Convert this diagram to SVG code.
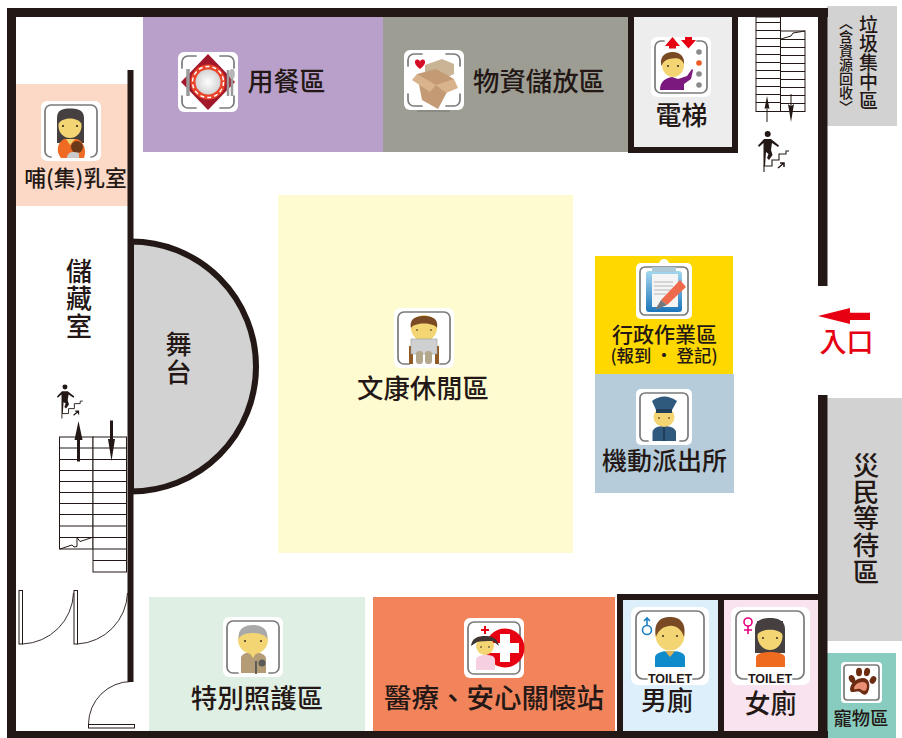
<svg xmlns="http://www.w3.org/2000/svg" width="902" height="738" viewBox="0 0 902 738">
<style>
text{font-family:"Noto Sans CJK TC","Noto Sans CJK SC",sans-serif;fill:#231815;text-anchor:middle;font-weight:500}
.v{writing-mode:vertical-rl}
.en{font-family:"Liberation Sans",sans-serif;font-weight:700;font-size:12.500px}
.w{fill:#231815}
.tile{fill:#fff}
.fr{fill:none;stroke:#7a7a7a;stroke-width:1.700;stroke-linecap:round}
.st{fill:#fff;stroke:#231815;stroke-width:1}
.tr{fill:none;stroke:#231815;stroke-width:1}
.door{fill:#fff;stroke:#231815;stroke-width:1}
.arc{fill:none;stroke:#231815;stroke-width:.9}
.skin{fill:#f3d673}
.eye{fill:#231815}
</style>
<defs>
<linearGradient id="board" x1="0" y1="0" x2="0" y2="1"><stop offset="0" stop-color="#a5d8f0"/><stop offset="1" stop-color="#1b75bb"/></linearGradient>
<radialGradient id="plate"><stop offset="0" stop-color="#fff"/><stop offset="1" stop-color="#d4d4d4"/></radialGradient>
<rect id="tile" class="tile" width="60" height="60" rx="6"/>
<path id="brk" class="fr" d="M4 16V10a6 6 0 0 1 6-6h8M42 4h8a6 6 0 0 1 6 6v6M56 44v6a6 6 0 0 1-6 6h-8M18 56h-8a6 6 0 0 1-6-6v-6"/>
<g id="walker">
<circle cx="767.700" cy="134" r="3" class="w"/>
<path class="w" d="M758 145.500 764 139H771L779 145.500 778 147 772 143 771 150 772.500 155 769 160 767 158 768.500 154 766 152 765 166H763.500L763.500 150 763.500 143 759 147Z"/>
<path fill="none" stroke="#231815" stroke-width="1.100" d="M764 172V166H772V160H779V154H786V151H789"/>
<path fill="none" stroke="#231815" stroke-width="1.500" d="M778 168 784 163M780 163H784V167"/>
</g>
</defs>

<g id="rooms">
<rect x="143" y="17" width="240" height="135" fill="#b9a0cb"/>
<rect x="383" y="17" width="245" height="135" fill="#9d9d93"/>
<rect x="16" y="84" width="112" height="122" fill="#fbd9c6"/>
<rect x="278" y="195" width="295" height="358" fill="#fffbd1"/>
<rect x="595" y="256" width="138" height="118" fill="#ffd800"/>
<rect x="595" y="374" width="139" height="119" fill="#b6ccda"/>
<rect x="149" y="597" width="216" height="134" fill="#dfefe3"/>
<rect x="373" y="597" width="242" height="134" fill="#f2845c"/>
<rect x="623" y="600" width="95" height="131" fill="#dceffa"/>
<rect x="724" y="600" width="94" height="131" fill="#f9e3ef"/>
<rect x="827" y="6" width="70" height="120" fill="#d2d2d2"/>
<rect x="827" y="398" width="75" height="243" fill="#d2d2d2"/>
<rect x="827" y="653" width="69" height="85" fill="#87ccbe"/>
<rect x="634" y="15" width="98" height="132" fill="#ededee"/>
</g>

<g id="stage"><path d="M131 241.500A125 125 0 0 1 131 491.500Z" fill="#d2d2d2" stroke="#231815" stroke-width="6"/></g>

<g id="walls">
<rect class="w" x="7" y="8" width="821" height="9"/>
<rect class="w" x="7" y="8" width="9" height="730"/>
<rect class="w" x="7" y="731" width="821" height="7"/>
<rect class="w" x="818" y="8" width="9.500" height="278"/>
<rect class="w" x="818" y="395" width="9.500" height="343"/>
<rect class="w" x="127.500" y="70" width="6" height="612"/>
<path class="w" d="M628 15h6v132h98V15h6v138H628Z"/>
<path class="w" d="M617 594H824V731H818V600H724V731H718V600H623V731H617Z"/>
</g>

<g id="stairs-right">
<rect class="st" x="756" y="17" width="24.500" height="94.500"/>
<rect class="st" x="780.500" y="31" width="24.500" height="80.500"/>
<path class="tr" d="M756 22.500h24.500M756 30.500h24.500M756 38.500h24.500M756 46.500h24.500M756 54.500h24.500M756 62.500h24.500M756 70.500h24.500M756 78.500h24.500M756 86.500h24.500M756 94.500h24.500M756 102.500h24.500M780.500 39.500h24.500M780.500 47.500h24.500M780.500 55.500h24.500M780.500 63.500h24.500M780.500 71.500h24.500M780.500 79.500h24.500M780.500 87.500h24.500M780.500 95.500h24.500M780.500 103.500h24.500"/>
<path class="tr" d="M781 39 791 36 793 33 805 31"/>
<path class="w" d="M766.500 122V108L764.500 109 767 96 769.500 109 767.500 108V122Z"/>
<path class="w" d="M790.500 94H791.500V106L794 104 791 122 788 104 790.500 106Z"/>
<use href="#walker"/>
</g>

<g id="stairs-left">
<rect class="st" x="59.500" y="437" width="33.500" height="112"/>
<rect class="st" x="93" y="437" width="33.500" height="135"/>
<path class="tr" d="M59.500 448h33.500M59.500 459.500h33.500M59.500 470.500h33.500M59.500 481.500h33.500M59.500 492.500h33.500M59.500 503.500h33.500M59.500 514.500h33.500M59.500 526h33.500M59.500 537.500h33.500M93 448h33.500M93 459.500h33.500M93 470.500h33.500M93 481.500h33.500M93 492.500h33.500M93 503.500h33.500M93 514.500h33.500M93 526h33.500M93 537.500h33.500M93 549h33.500M93 560.500h33.500"/>
<path class="tr" d="M60 549 72 545 74 547 77 546.500V537.500L80 541.500 92 537.500"/>
<path class="w" d="M77 461.500V440H74.500L78.500 421 82.500 440H80V461.500Z"/>
<path class="w" d="M110 420.500H113V439L115 439 111.500 461 108 439 110 439Z"/>
<use href="#walker" transform="translate(-572.200 275.800) scale(.83)"/>
</g>

<g id="doors">
<rect class="door" x="19" y="590.500" width="3.500" height="53.500"/>
<rect class="door" x="74" y="590.500" width="3.500" height="53.500"/>
<path class="arc" d="M22.500 644A53 53 0 0 0 73.500 593"/>
<path class="arc" d="M77.500 644A53 53 0 0 0 127.500 593"/>
<rect class="door" x="88.500" y="724.500" width="46" height="3.500"/>
<path class="arc" d="M88.500 724A43 43 0 0 1 131 681.500"/>
</g>

<g id="node-dining" transform="translate(178 52)">
<use href="#tile"/><use href="#brk"/>
<path d="M30 2 57 30 30 58 3 30Z" fill="#a3172a"/>
<circle cx="30" cy="30" r="17.500" fill="#e9452a"/><circle cx="30" cy="30" r="15.500" fill="none" stroke="#fff" stroke-width="1.500" stroke-dasharray="4 3"/><circle cx="30" cy="30" r="12.500" fill="url(#plate)"/>
<path d="M10 17V44" stroke="#9a9a9a" stroke-width="3.500"/><path d="M50 18V44M54 21V44" stroke="#9a9a9a" stroke-width="2.500"/><ellipse cx="54" cy="22" rx="2.800" ry="5" fill="#b5b5b5"/>
</g>
<g id="label-dining"><text x="286.500" y="91" font-size="26">用餐區</text></g>

<g id="node-nursing" transform="translate(41 101)">
<use href="#tile"/><path class="fr" d="M4 16V10a6 6 0 0 1 6-6H50a6 6 0 0 1 6 6V50a6 6 0 0 1-6 6H50M10 56a6 6 0 0 1-6-6V16"/>
<path d="M16 42V17C16 8 23 7.500 29 7.500S43 8 43 17V42Z" fill="#453f3f"/>
<ellipse class="skin" cx="29" cy="25" rx="11.500" ry="12"/>
<path d="M18 22C22 16 36 16 40 22V12H18Z" fill="#453f3f"/>
<circle class="eye" cx="22" cy="25" r="1"/><circle class="eye" cx="36" cy="25" r="1"/>
<path d="M20 57C14 50 17 41 23 38H36C42 40 46 48 43 57Z" fill="#ef6b23"/>
<path d="M25 38 29 44 34 38Z" fill="#f3d673"/>
<circle cx="36" cy="46" r="6" fill="#6a3a1b"/><path d="M26 57C26 51 32 50 38 52V57Z" fill="#c9c9c9"/>
</g>
<g id="label-nursing"><text x="75.500" y="186" font-size="21.800">哺(集)乳室</text></g>

<g id="node-supplies" transform="translate(404 50)">
<use href="#tile"/><use href="#brk"/><path d="M13 61H46" stroke="#7a7a7a" stroke-width="1"/>
<path d="M21 15 38 9 50 14V24L38 30 21 24Z" fill="#c9b595"/>
<path d="M13 24 32 19 50 29 34 59 18 50Z" fill="#c39a73"/><path d="M8 30 13 24 32 35 26 42ZM50 29 54 38 42 43 32 35Z" fill="#d8b38c"/>
<path d="M14 10C16 7 19 9 19 11 19 9 22 7 24 10 25 14 19 18 19 18S13 14 14 10Z" fill="#d40f27" transform="translate(-3 1)"/>
</g>
<g id="label-supplies"><text x="539" y="91" font-size="26.400">物資儲放區</text></g>

<g id="node-elevator" transform="translate(651 37)">
<use href="#tile"/><path class="fr" d="M13 4H10a6 6 0 0 0-6 6V50a6 6 0 0 0 6 6H50a6 6 0 0 0 6-6V10a6 6 0 0 0-6-6H46"/>
<path d="M14 9 21.500 0 29 9H25V11.500H18V9Z" fill="#e60012"/>
<path d="M34 0H41V3H45L37.500 11.500 30 3H34Z" fill="#e60012"/>
<circle cx="48" cy="15" r="2.800" fill="#8a8a8a"/><circle cx="48" cy="26" r="2.800" fill="#ee5a24"/><circle cx="48" cy="37" r="2.800" fill="#8a8a8a"/><circle cx="48" cy="48" r="2.800" fill="#8a8a8a"/>
<path d="M9 53C9 44 15 41 21 40L27 42 36 39 41 32 42 33 40 42 33 47V53Z" fill="#7b197f"/>
<ellipse class="skin" cx="22" cy="28" rx="11" ry="12"/>
<path d="M10.500 29C8 18 16 15 22 15 28 15 34 19 33 27 30 20 24 21 18 22 14 23 12 25 10.500 29Z" fill="#7a4a24"/>
<circle class="eye" cx="17" cy="29" r=".9"/><circle class="eye" cx="27" cy="29" r=".9"/>
</g>
<g id="label-elevator"><text x="681.500" y="125" font-size="26">電梯</text></g>

<g id="label-storage"><text class="v" x="79" y="299" font-size="26" letter-spacing="1.500">儲藏室</text></g>
<g id="label-stage"><text class="v" x="178.500" y="359" font-size="26" letter-spacing="1.500">舞台</text></g>

<g id="node-recreation" transform="translate(394 308)">
<use href="#tile"/><path class="fr" d="M15 56H10a6 6 0 0 1-6-6V10a6 6 0 0 1 6-6H50a6 6 0 0 1 6 6V50a6 6 0 0 1-6 6H46"/>
<path d="M15 38H19V56H41V38H45V56H15Z" fill="#8f5a24"/>
<ellipse class="skin" cx="30" cy="20" rx="13" ry="13"/>
<path d="M17 20C15 10 23 8 30 8S45 10 43 20C40 14 20 14 17 20Z" fill="#7a4a24"/>
<circle class="eye" cx="23" cy="22" r=".8"/><circle class="eye" cx="37" cy="22" r=".8"/>
<rect x="17" y="31" width="26" height="15" fill="#cfd0d2" stroke="#9a9a9a" stroke-width=".6"/>
<rect x="22" y="43" width="7" height="13" rx="3" fill="#b3a88d"/><rect x="31" y="43" width="7" height="13" rx="3" fill="#b3a88d"/>
</g>
<g id="label-recreation"><text x="423" y="398" font-size="26.400">文康休閒區</text></g>

<g id="node-admin" transform="translate(636 263)">
<rect class="tile" width="56" height="56" rx="5"/><circle cx="28" cy="1" r="5" fill="#fff"/>
<path class="fr" d="M4 14V9a5 5 0 0 1 5-5H47a5 5 0 0 1 5 5V47a5 5 0 0 1-5 5H9a5 5 0 0 1-5-5Z"/>
<rect x="10" y="8" width="36" height="41" rx="3" fill="url(#board)"/>
<rect x="16" y="11" width="26" height="33" fill="#f4f4f4"/>
<path d="M16 4H40V9H16Z" fill="#adc8d6"/>
<path d="M18 19H37M18 23H37M18 27H35M18 31H30" stroke="#a8a8a8" stroke-width=".8"/>
<path d="M44 17 50 24 31 42 25 37Z" fill="#ee6a4d"/><path d="M25 37 31 42 19 47Z" fill="#777"/>
</g>
<g id="label-admin"><text x="664.500" y="342" font-size="21">行政作業區</text><text x="664" y="362" font-size="17.400">(報到 ・ 登記)</text></g>

<g id="node-police" transform="translate(636 389)">
<rect class="tile" width="56" height="56" rx="5"/>
<path class="fr" d="M12 52H9a5 5 0 0 1-5-5V9a5 5 0 0 1 5-5H47a5 5 0 0 1 5 5V47a5 5 0 0 1-5 5H44"/>
<path d="M16.500 52V43C17 39 22 37 28 37S39.500 39 40 43V52Z" fill="#2f5a7e"/>
<path d="M27 38H29V52H27Z" fill="#1f3f5a"/>
<ellipse class="skin" cx="28" cy="28" rx="10.500" ry="10"/>
<circle class="eye" cx="23" cy="29" r=".8"/><circle class="eye" cx="33" cy="29" r=".8"/>
<path d="M16 12Q28 3 41 12L36 21H20Z" fill="#2f5a7e"/><path d="M20 20H36V24H20Z" fill="#1f3f5a"/>
</g>
<g id="label-police"><text x="664.500" y="470" font-size="25">機動派出所</text></g>

<g id="node-elder" transform="translate(223 617)">
<use href="#tile"/><path class="fr" d="M15 56H10a6 6 0 0 1-6-6V10a6 6 0 0 1 6-6H50a6 6 0 0 1 6 6V50a6 6 0 0 1-6 6H46"/>
<path d="M18 56V41C18 37 24 35 30 35S42 37 43 41V56Z" fill="#b39c76"/>
<path d="M26 35 30 41 34 35Z" fill="#f3d673"/>
<ellipse class="skin" cx="30" cy="23" rx="15" ry="14"/>
<path d="M16 22C14 12 22 8 30 8S46 12 44 22C42 14 18 14 16 22Z" fill="#a9a9a9"/>
<circle class="eye" cx="22" cy="24" r=".9"/><circle class="eye" cx="38" cy="24" r=".9"/>
<path d="M33 57V44" stroke="#555" stroke-width="1.800"/><circle cx="39" cy="46" r="3.500" fill="#5a5a5a"/>
</g>
<g id="label-elder"><text x="257" y="708" font-size="26.500">特別照護區</text></g>

<g id="node-medical" transform="translate(464 618)">
<use href="#tile"/>
<path class="fr" d="M4 10a6 6 0 0 1 6-6H50a6 6 0 0 1 6 6V50a6 6 0 0 1-6 6H10a6 6 0 0 1-6-6Z"/>
<circle cx="41" cy="30" r="19.500" fill="#e60012"/>
<path d="M36 16H46V25H55V35H46V44H36V35H27V25H36Z" fill="#fff"/>
<path d="M12 52V42C12 38 18 37 22 37 27 37 31 38 31 42V52Z" fill="#f6cfe1"/>
<ellipse class="skin" cx="21" cy="28" rx="9" ry="9"/>
<path d="M7 28C8 20 14 18 21 18S33 20 35 28L29 23C25 23 16 23 13 24Z" fill="#3f3531"/>
<circle class="eye" cx="17" cy="29" r=".8"/><circle class="eye" cx="25" cy="29" r=".8"/>
<path d="M20 8H22V11H25V13H22V16H20V13H17V11H20Z" fill="#e60012"/>
</g>
<g id="label-medical"><text x="494" y="708" font-size="27.500">醫療、安心關懷站</text></g>

<g id="node-male" transform="translate(631 607)">
<rect class="tile" width="78" height="78" rx="7"/>
<path class="fr" d="M16 72H12a7 7 0 0 1-7-7V11a7 7 0 0 1 7-7H66a7 7 0 0 1 7 7V65a7 7 0 0 1-7 7H62" stroke-width="2"/>
<path d="M24 60V50C25 45 33 44 39 44 47 44 53 45 54 50V60Z" fill="#0f8acb"/>
<path d="M34 44 39 50 44 44Z" fill="#e2b45a"/>
<ellipse class="skin" cx="39" cy="28" rx="14.500" ry="15.500"/>
<path d="M25 30C22 15 30 10 39 10S56 15 53 30C50 21 44 18 38 19 31 20 27 24 25 30Z" fill="#7a4a24"/>
<circle class="eye" cx="32" cy="29" r=".9"/><circle class="eye" cx="46" cy="29" r=".9"/>
<circle cx="16" cy="23" r="4.500" fill="none" stroke="#1a7fc4" stroke-width="1.600"/><path d="M16 18V12M13 14 16 11 19 14" fill="none" stroke="#1a7fc4" stroke-width="1.600"/>
<text class="en" x="39" y="76">TOILET</text>
</g>
<g id="label-male"><text x="667" y="710" font-size="26">男廁</text></g>

<g id="node-female" transform="translate(731 607)">
<rect class="tile" width="79" height="78" rx="7"/>
<path class="fr" d="M16 72H12a7 7 0 0 1-7-7V11a7 7 0 0 1 7-7H66a7 7 0 0 1 7 7V65a7 7 0 0 1-7 7H62" stroke-width="2"/>
<path d="M24 46V22C24 13 32 11 39 11S54 13 54 22V46Z" fill="#453f3f"/>
<path d="M25 60V50C26 46 33 45 39 45S53 46 54 50V60Z" fill="#ef6b1f"/>
<ellipse class="skin" cx="39" cy="29" rx="12.500" ry="14"/>
<path d="M26 28C30 21 48 21 52 28V14H26Z" fill="#453f3f"/>
<circle class="eye" cx="32" cy="31" r=".9"/><circle class="eye" cx="46" cy="31" r=".9"/>
<circle cx="17" cy="15" r="4" fill="none" stroke="#e4007f" stroke-width="1.600"/><path d="M17 19V27M13 23H21" fill="none" stroke="#e4007f" stroke-width="1.600"/>
<text class="en" x="39" y="76">TOILET</text>
</g>
<g id="label-female"><text x="770.500" y="713" font-size="26">女廁</text></g>

<g id="node-pet" transform="translate(841 662)">
<rect class="tile" width="41" height="41" rx="4"/>
<rect class="fr" x="3" y="3" width="35" height="35" rx="3" stroke-width="1.100"/>
<ellipse cx="11" cy="17" rx="3" ry="4" fill="#6b2c12" transform="rotate(-25 11 17)"/><ellipse cx="18" cy="10" rx="3" ry="4.200" fill="#6b2c12"/><ellipse cx="26" cy="10" rx="3" ry="4.200" fill="#6b2c12" transform="rotate(12 26 10)"/><ellipse cx="32" cy="18" rx="3" ry="4" fill="#6b2c12" transform="rotate(30 32 18)"/>
<path d="M9 27C10 20 16 16 22 16S30 23 27 30C25 34 22 33 19 30 16 28 9 33 9 27Z" fill="#6b2c12"/>
<path d="M13 26C14 22 18 20 22 20S27 24 25 28C23 30 21 28 19 27 17 26 13 29 13 26Z" fill="#e88f74"/>
</g>
<g id="label-pet"><text x="861" y="725" font-size="18.300">寵物區</text></g>

<g id="label-garbage"><text class="v" x="868.500" y="62.500" font-size="19">垃圾集中區</text>
<text class="v" x="846" y="65" font-size="14">〈含資源回收〉</text></g>

<g id="label-waiting"><text class="v" x="866" y="518.500" font-size="26.500" letter-spacing=".2">災民等待區</text></g>

<g id="entrance">
<path d="M818 316 850 308V312.700H870V320H850V324Z" fill="#e60012"/>
<text x="846.500" y="352" font-size="27" style="fill:#e60012">入口</text>
</g>
</svg>
